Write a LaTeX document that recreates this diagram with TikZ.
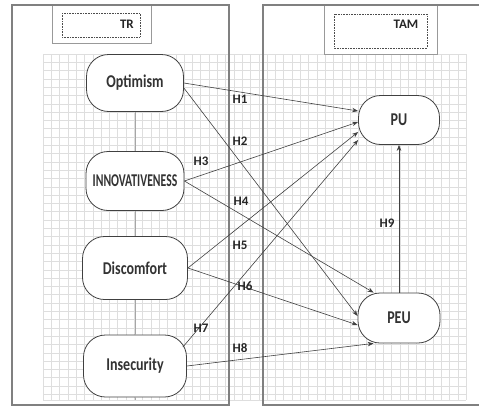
\documentclass[tikz,border=0pt]{standalone}
\usepackage{fontspec}
\setmainfont{Carlito}
\newfontfamily\boxfont[FakeStretch=0.78]{Carlito}
\newfontfamily\capsfont[FakeStretch=0.65]{Carlito}
\usetikzlibrary{arrows.meta}

\tikzset{
  construct/.style={draw=black!75, fill=white, rounded corners=22pt, line width=0.8pt,
    inner sep=0pt, text=black!80, font=\boxfont\bfseries\fontsize{18}{18}\selectfont},
  hyp/.style={draw=black!75, line width=0.6pt, -{Stealth[length=6pt,width=4.5pt]}},
  hlabel/.style={inner sep=0pt, text=black!85, font=\bfseries\fontsize{13}{13}\selectfont},
  frameline/.style={draw=black!50, line width=2pt},
  gridline/.style={draw=black!13, line width=0.5pt},
}

\begin{document}
\begin{tikzpicture}[x=1pt, y=-1pt]
	\useasboundingbox (0,0) rectangle (479,407);
	
	% grid
	\foreach \i in {0,...,51}
		\draw[gridline] (43+\i*8.3,54) -- (43+\i*8.3,400);
	\foreach \j in {0,...,41}
		\draw[gridline] (43,54+\j*8.3) -- (466,54+\j*8.3);
	\draw[gridline] (43,400) -- (466,400);
	
	% title boxes
	\draw[black!40, line width=0.8pt, fill=white] (52,5) rectangle (151,43);
	\draw[black!70, densely dotted, line width=0.6pt] (62,13) rectangle (140,37);
	\draw[black!40, line width=0.8pt, fill=white] (324,5) rectangle (437,54);
	\draw[black!70, densely dotted, line width=0.6pt] (334,14) rectangle (427,48);
	\node[hlabel, anchor=east] (tr) at (134,24) {TR};
	\node[hlabel] (tam) at (406,24) {TAM};
	
	% frames
	\draw[frameline] (12,5) rectangle (229,405);
	\draw[frameline] (479,5) -- (263,5) -- (263,405) -- (479,405);
	
	% constructs
	\node[construct, minimum width=97pt, minimum height=57pt] (opt) at (135,83) {Optimism};
	\node[construct, minimum width=98pt, minimum height=59pt,
		font=\capsfont\bfseries\fontsize{18}{18}\selectfont] (innov) at (135,181) {INNOVATIVENESS};
	\node[construct, minimum width=105pt, minimum height=63pt] (dis) at (135,268) {Discomfort};
	\node[construct, minimum width=103pt, minimum height=62pt] (ins) at (135,366) {Insecurity};
	\node[construct, minimum width=81pt, minimum height=49pt] (pu) at (399,120) {PU};
	\node[construct, minimum width=82pt, minimum height=50pt] (peu) at (399,318) {PEU};
	
	\coordinate (base) at (135,400);
	\draw[black!35, line width=0.5pt] (opt.south) -- (innov.north);
	\draw[black!35, line width=0.5pt] (innov.south) -- (dis.north);
	\draw[black!35, line width=0.5pt] (dis.south) -- (ins.north);
	\draw[black!35, line width=0.5pt] (ins.south) -- (base);
	
	% hypotheses
	\draw[hyp] (opt.east) -- ([yshift=9pt]pu.west);
	\draw[hyp] ([yshift=-5pt]opt.east) -- ([yshift=2pt]peu.west);
	\draw[hyp] (innov.east) -- ([yshift=-2pt]pu.west);
	\draw[hyp] (innov.east) -- ([xshift=16pt]peu.north west);
	\draw[hyp] (dis.east) -- ([yshift=-12pt]pu.west);
	\draw[hyp] (dis.east) -- ([yshift=-7pt]peu.west);
	\draw[hyp] ([xshift=-4pt,yshift=19pt]ins.east) -- ([yshift=-20pt]pu.west);
	\draw[hyp] (ins.east) -- ([xshift=16pt]peu.south west);
	\draw[hyp] (peu.north) -- (pu.south);
	
	\node[hlabel] (h1) at (240,99) {H1};
	\node[hlabel] (h2) at (240,141) {H2};
	\node[hlabel] (h3) at (201,161) {H3};
	\node[hlabel] (h4) at (241,201) {H4};
	\node[hlabel] (h5) at (240,245) {H5};
	\node[hlabel] (h6) at (245,286) {H6};
	\node[hlabel] (h7) at (201,328) {H7};
	\node[hlabel] (h8) at (240,348) {H8};
	\node[hlabel] (h9) at (387,223) {H9};
\end{tikzpicture}
\end{document}
